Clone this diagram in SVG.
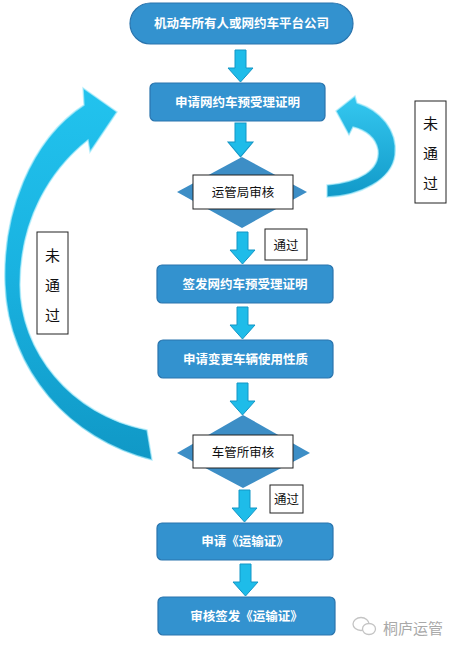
<svg xmlns="http://www.w3.org/2000/svg" width="458" height="647" viewBox="0 0 458 647">
<style>
.box{fill:#3392cf;stroke:#2a74ad;stroke-width:1.2}
.dia{fill:#3d8ec6}
.wbox{fill:#fff;stroke:#222;stroke-width:1}
.wt{font-family:"Noto Sans CJK SC","Noto Sans",sans-serif;font-size:12.5px;font-weight:bold;fill:#fff;text-anchor:middle}
.bt{font-family:"Noto Sans CJK SC","Noto Sans",sans-serif;font-size:12.5px;fill:#111;text-anchor:middle}
.vt{font-family:"Noto Sans CJK SC","Noto Sans",sans-serif;font-size:15px;fill:#111;text-anchor:middle}
.arr{fill:#1ebce9;stroke:#1396c6;stroke-width:1}
.wm{font-family:"Noto Sans CJK SC","Noto Sans",sans-serif;font-size:15px;fill:#a9a9a9}
</style>
<defs>
<path id="da" d="M7 0H18V18H25L12.5 32L0 18H7Z"/>
<linearGradient id="gl" x1="0" y1="0" x2="0" y2="1">
<stop offset="0" stop-color="#22c3ee"/><stop offset="0.5" stop-color="#19b2e0"/><stop offset="1" stop-color="#1098c6"/>
</linearGradient>
<linearGradient id="gr" x1="0" y1="0" x2="0" y2="1">
<stop offset="0" stop-color="#35c8f0"/><stop offset="1" stop-color="#1199c8"/>
</linearGradient>
</defs>

<g id="connectors">
<use href="#da" class="arr" transform="translate(228,50)"/>
<use href="#da" class="arr" transform="translate(228,123) scale(1,1.06)"/>
<use href="#da" class="arr" transform="translate(230,232)"/>
<use href="#da" class="arr" transform="translate(230,307)"/>
<use href="#da" class="arr" transform="translate(230,383)"/>
<use href="#da" class="arr" transform="translate(232,490)"/>
<use href="#da" class="arr" transform="translate(233,564)"/>
<path id="left-loop" d="M84 105C30 140 2 215 5 285C8 370 70 440 152 460L147 430C70 415 20 350 20 285C20 220 50 170 88 140L90 152L117 112L83 88Z" fill="url(#gl)" stroke="#a8ebfb" stroke-width="1.5" stroke-opacity="0.7"/>
<path id="right-loop" d="M327 185C360 182 380 170 378 150C376 138 366 130 353 127L349 135L336 111L355 96L357 103C380 110 398 130 395 155C392 180 360 196 327 197Z" fill="url(#gr)" stroke="#a8ebfb" stroke-width="1.5" stroke-opacity="0.7"/>
</g>

<g id="n-start">
<rect x="130" y="3" width="223" height="41" rx="20.5" class="box"/>
<text x="241.5" y="28" class="wt">机动车所有人或网约车平台公司</text>
</g>
<g id="n-apply">
<rect x="150" y="83" width="175" height="38" rx="5" class="box"/>
<text x="237.5" y="107" class="wt">申请网约车预受理证明</text>
</g>
<g id="n-review1">
<polygon points="242,157 307,192 242,228 177,192" class="dia"/>
<rect x="193" y="175" width="100" height="34" class="wbox"/>
<text x="243" y="197" class="bt">运管局审核</text>
</g>
<g id="n-issue">
<rect x="157" y="265" width="176" height="38" rx="5" class="box"/>
<text x="245" y="289" class="wt">签发网约车预受理证明</text>
</g>
<g id="n-change">
<rect x="158" y="340" width="175" height="38" rx="5" class="box"/>
<text x="245.5" y="364" class="wt">申请变更车辆使用性质</text>
</g>
<g id="n-review2">
<polygon points="243,415 310,453 243,488 177,453" class="dia"/>
<rect x="193" y="435" width="100" height="33" class="wbox"/>
<text x="243" y="457" class="bt">车管所审核</text>
</g>
<g id="n-permit">
<rect x="157" y="523" width="176" height="37" rx="5" class="box"/>
<text x="245" y="546" class="wt">申请《运输证》</text>
</g>
<g id="n-final">
<rect x="158" y="597" width="177" height="38" rx="5" class="box"/>
<text x="246.5" y="621" class="wt">审核签发《运输证》</text>
</g>

<g id="l-pass1">
<rect x="265" y="229" width="42" height="31" class="wbox"/>
<text x="286" y="250" class="bt">通过</text>
</g>
<g id="l-pass2">
<rect x="270" y="485" width="33" height="28" class="wbox"/>
<text x="286.5" y="504" class="bt">通过</text>
</g>
<g id="l-fail-right">
<rect x="415" y="101" width="31" height="102" class="wbox"/>
<text x="430.5" y="129" class="vt">未</text>
<text x="430.5" y="159" class="vt">通</text>
<text x="430.5" y="189" class="vt">过</text>
</g>
<g id="l-fail-left">
<rect x="37" y="232" width="31" height="102" class="wbox"/>
<text x="52.5" y="261" class="vt">未</text>
<text x="52.5" y="291" class="vt">通</text>
<text x="52.5" y="321" class="vt">过</text>
</g>

<g id="watermark">
<ellipse cx="361" cy="624" rx="8" ry="6.5" fill="none" stroke="#c4c4c4" stroke-width="1.3"/>
<ellipse cx="369" cy="629" rx="6.5" ry="5.5" fill="#fff" stroke="#c4c4c4" stroke-width="1.3"/>
<text x="383" y="634" class="wm">桐庐运管</text>
</g>
</svg>
